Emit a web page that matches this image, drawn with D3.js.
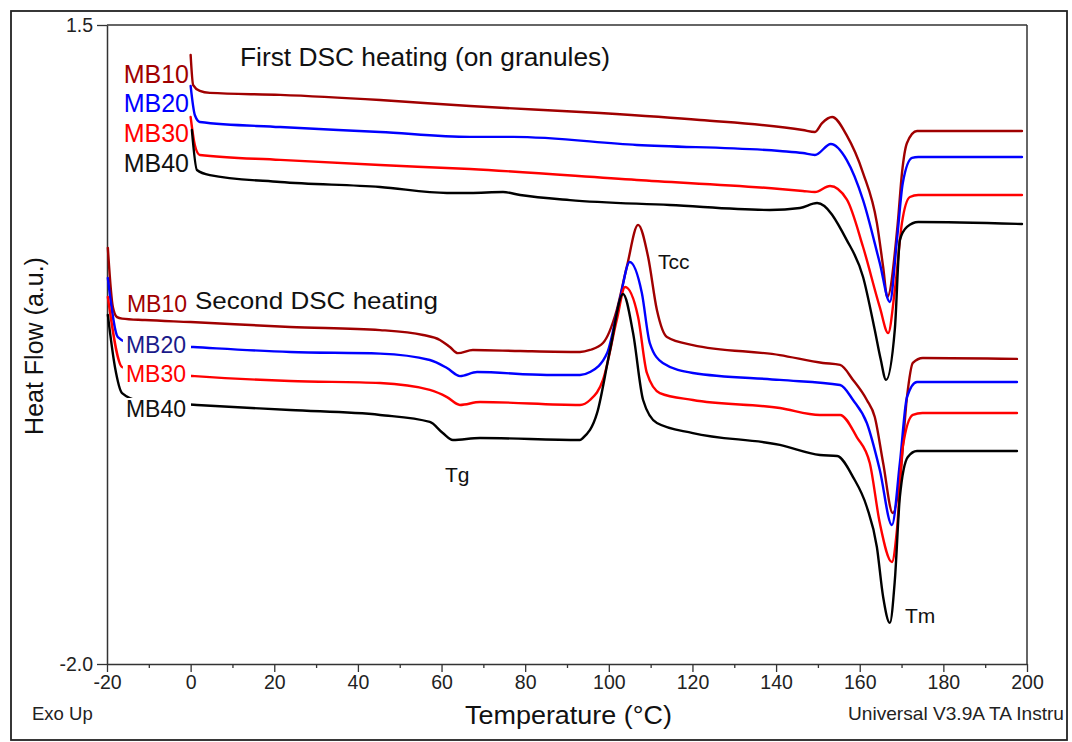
<!DOCTYPE html>
<html>
<head>
<meta charset="utf-8">
<script src="https://cdn.jsdelivr.net/npm/d3@7"></script>
<style>
  html, body { margin: 0; padding: 0; background: #fff; }
  svg { display: block; font-family: "Liberation Sans", Arial, sans-serif; }
</style>
</head>
<body>
<svg id="chart" width="1072" height="742"></svg>
<script>
// ---------------- DATA ----------------
const seriesNames = ["MB10", "MB20", "MB30", "MB40"];
const xTickValues = [-20, 0, 20, 40, 60, 80, 100, 120, 140, 160, 180, 200];
const xMinorTickValues = [-10, 10, 30, 50, 70, 90, 110, 130, 150, 170, 190];
const yTickValues = [1.5, -2.0];
const yTickLabels = ["1.5", "-2.0"];

// First DSC heating (on granules): [temperature °C, heat flow a.u.]
const firstMB10 = [[0.0,1.336],[0.6,1.171],[2.2,1.139],[4.6,1.128],[21.4,1.117],[45.3,1.089],[66.8,1.056],[97.9,1.018],[121.8,0.980],[146.4,0.925],[149.3,0.914],[151.0,0.963],[153.4,0.996],[156.9,0.895],[160.8,0.689],[164.1,0.416],[165.6,0.175],[166.6,0.010],[169.1,0.416],[170.1,0.689],[171.3,0.854],[173.7,0.919],[198.8,0.919]];
const firstMB20 = [[0.0,1.166],[1.0,1.007],[2.2,0.969],[21.4,0.941],[45.3,0.914],[66.8,0.887],[77.1,0.887],[106.7,0.843],[140.9,0.810],[146.4,0.799],[149.3,0.788],[153.1,0.848],[156.9,0.760],[160.8,0.541],[164.8,0.196],[167.2,-0.017],[168.9,0.322],[170.3,0.635],[172.5,0.772],[174.0,0.777],[198.8,0.777]];
const firstMB30 = [[0.0,0.996],[1.0,0.843],[2.2,0.788],[21.4,0.761],[45.3,0.733],[66.8,0.711],[106.7,0.651],[140.9,0.602],[146.4,0.591],[149.3,0.585],[152.9,0.618],[156.9,0.545],[160.8,0.284],[164.8,-0.045],[166.8,-0.187],[168.4,0.049],[170.1,0.416],[172.0,0.558],[174.0,0.569],[198.8,0.569]];
const firstMB40 = [[0.3,0.925],[1.5,0.706],[4.6,0.678],[21.4,0.640],[45.3,0.613],[61.3,0.580],[66.8,0.580],[74.7,0.585],[78.8,0.569],[90.7,0.541],[114.6,0.514],[138.5,0.487],[145.7,0.498],[149.8,0.525],[156.9,0.322],[160.8,0.120],[163.6,-0.171],[165.0,-0.330],[166.3,-0.444],[168.4,-0.166],[169.6,0.322],[171.3,0.394],[174.0,0.421],[198.8,0.410]];

// Second DSC heating
const secondMB10 = [[-19.8,0.279],[-18.6,-0.045],[-17.6,-0.100],[-16.4,-0.108],[-10.9,-0.116],[0.0,-0.127],[23.8,-0.154],[45.3,-0.171],[55.6,-0.198],[59.6,-0.225],[62.0,-0.264],[63.9,-0.297],[67.5,-0.280],[78.8,-0.286],[93.1,-0.291],[95.5,-0.280],[98.6,-0.242],[101.9,-0.061],[104.3,0.175],[107.0,0.405],[109.4,0.229],[111.5,-0.061],[113.9,-0.209],[120.1,-0.253],[140.9,-0.308],[151.2,-0.351],[155.3,-0.362],[158.4,-0.444],[161.7,-0.554],[163.6,-0.647],[165.6,-0.899],[167.9,-1.173],[169.6,-0.992],[171.3,-0.538],[172.7,-0.351],[175.1,-0.324],[197.6,-0.329]];
const secondMB20 = [[-19.8,0.114],[-17.4,-0.209],[-14.0,-0.245],[0.6,-0.264],[23.8,-0.291],[45.3,-0.300],[57.2,-0.335],[61.3,-0.379],[64.4,-0.423],[68.5,-0.401],[85.2,-0.417],[93.1,-0.417],[95.5,-0.401],[99.6,-0.297],[102.6,-0.006],[105.0,0.202],[107.9,0.032],[109.8,-0.242],[112.9,-0.351],[120.1,-0.406],[140.9,-0.444],[155.3,-0.472],[158.4,-0.554],[161.7,-0.680],[164.8,-0.937],[167.7,-1.239],[169.6,-0.899],[171.3,-0.538],[173.7,-0.455],[197.6,-0.455]];
const secondMB30 = [[-19.8,0.010],[-16.4,-0.373],[-12.0,-0.400],[1.0,-0.423],[23.8,-0.450],[45.3,-0.461],[57.2,-0.499],[61.3,-0.538],[64.4,-0.581],[69.2,-0.565],[93.1,-0.581],[95.5,-0.554],[98.6,-0.444],[101.9,-0.116],[103.9,0.065],[107.0,-0.099],[109.1,-0.406],[112.2,-0.516],[120.1,-0.554],[140.9,-0.598],[150.5,-0.636],[155.3,-0.636],[159.3,-0.757],[162.4,-0.899],[164.8,-1.228],[167.7,-1.441],[168.9,-1.266],[170.3,-0.811],[172.7,-0.636],[175.0,-0.625],[197.6,-0.625]];
const secondMB40 = [[-19.8,-0.088],[-18.1,-0.373],[-16.4,-0.516],[-12.0,-0.560],[1.5,-0.581],[23.8,-0.609],[45.3,-0.636],[57.2,-0.674],[60.3,-0.735],[62.7,-0.773],[69.2,-0.762],[93.1,-0.773],[93.8,-0.762],[97.2,-0.625],[100.3,-0.280],[103.4,0.027],[105.8,-0.187],[108.2,-0.554],[111.5,-0.680],[120.1,-0.735],[140.9,-0.800],[150.5,-0.855],[154.6,-0.861],[158.4,-0.976],[161.7,-1.140],[164.1,-1.359],[165.6,-1.633],[167.2,-1.775],[168.4,-1.540],[169.6,-1.085],[171.5,-0.866],[173.7,-0.833],[197.6,-0.833]];

// ---------------- STYLE ----------------
const seriesColor = { MB10: "#a00000", MB20: "#0000ff", MB30: "#ff0000", MB40: "#000000" };
const FONT = '"Liberation Sans", Arial, sans-serif';

const svg = d3.select("#chart");
const plot = { left: 107, right: 1027, top: 25, bottom: 664 };

const x = d3.scaleLinear().domain([-20, 200]).range([plot.left, plot.right]);
const y = d3.scaleLinear().domain([-2.0, 1.5]).range([plot.bottom, plot.top]);

// outer frame
svg.append("rect").attr("x", 11).attr("y", 11).attr("width", 1056).attr("height", 729)
  .attr("fill", "#fff").attr("stroke", "#222").attr("stroke-width", 1.8);

// plot frame (top and right)
svg.append("line").attr("x1", plot.left).attr("x2", plot.right).attr("y1", plot.top).attr("y2", plot.top)
  .attr("stroke", "#333").attr("stroke-width", 1.5);
svg.append("line").attr("x1", plot.right).attr("x2", plot.right).attr("y1", plot.top).attr("y2", plot.bottom)
  .attr("stroke", "#333").attr("stroke-width", 1.5);

// x axis
const xAxis = svg.append("g").attr("transform", `translate(0,${plot.bottom})`)
  .call(d3.axisBottom(x).tickValues(xTickValues).tickSize(8).tickSizeOuter(0).tickPadding(3)
    .tickFormat(d => String(d)));
xAxis.select(".domain").attr("stroke", "#333").attr("stroke-width", 1.5);
xAxis.selectAll(".tick line").attr("stroke", "#333").attr("stroke-width", 1.3);
xAxis.selectAll(".tick text").attr("font-family", FONT).attr("font-size", 19.5).attr("fill", "#222");

const xMinor = svg.append("g").attr("transform", `translate(0,${plot.bottom})`)
  .call(d3.axisBottom(x).tickValues(xMinorTickValues).tickSize(4).tickSizeOuter(0).tickFormat(""));
xMinor.select(".domain").remove();
xMinor.selectAll(".tick line").attr("stroke", "#333").attr("stroke-width", 1.3);

// y axis
const yAxis = svg.append("g").attr("transform", `translate(${plot.left},0)`)
  .call(d3.axisLeft(y).tickValues(yTickValues).tickSize(10).tickSizeOuter(0).tickPadding(4)
    .tickFormat((d, i) => yTickLabels[i]));
yAxis.select(".domain").attr("stroke", "#333").attr("stroke-width", 1.5);
yAxis.selectAll(".tick line").attr("stroke", "#333").attr("stroke-width", 1.3);
yAxis.selectAll(".tick text").attr("font-family", FONT).attr("font-size", 19.5).attr("fill", "#222");

// curves
const line = d3.line().x(d => x(d[0])).y(d => y(d[1])).curve(d3.curveMonotoneX);
const curves = [
  { name: "MB10", data: firstMB10 }, { name: "MB20", data: firstMB20 },
  { name: "MB30", data: firstMB30 }, { name: "MB40", data: firstMB40 },
  { name: "MB10", data: secondMB10 }, { name: "MB20", data: secondMB20 },
  { name: "MB30", data: secondMB30 }, { name: "MB40", data: secondMB40 }
];
svg.append("g").selectAll("path").data(curves).join("path")
  .attr("d", d => line(d.data))
  .attr("fill", "none")
  .attr("stroke", d => seriesColor[d.name])
  .attr("stroke-width", 2.4)
  .attr("stroke-linejoin", "round")
  .attr("stroke-linecap", "round");

// labels (second-heating labels sit on white boxes that hide the curve beneath)
function label(txt, px, py, size, color, anchor, bg, len) {
  const g = svg.append("g");
  const t = g.append("text").attr("x", px).attr("y", py).attr("font-family", FONT)
    .attr("font-size", size).attr("fill", color).attr("text-anchor", anchor || "start").text(txt);
  if (len) t.attr("textLength", len).attr("lengthAdjust", "spacingAndGlyphs");
  if (bg) {
    const b = t.node().getBBox();
    g.insert("rect", "text").attr("x", b.x - 3).attr("y", b.y + 2).attr("width", b.width + 8)
      .attr("height", b.height - 3).attr("fill", "#fff");
  }
  return t;
}

label("First DSC heating (on granules)", 240, 66, 25, "#111", "start", false, 370);
label("MB10", 189, 83, 25, seriesColor.MB10, "end");
label("MB20", 189, 112, 25, seriesColor.MB20, "end");
label("MB30", 189, 142, 25, seriesColor.MB30, "end");
label("MB40", 189, 172, 25, "#111", "end");

label("MB10", 187, 312, 23, seriesColor.MB10, "end", true);
label("Second DSC heating", 195, 309, 24, "#111", "start", false, 243);
label("MB20", 186, 353, 23, "#1a1a8a", "end", true);
label("MB30", 186, 382, 23, seriesColor.MB30, "end", true);
label("MB40", 186, 417, 23, "#111", "end", true);

label("Tcc", 658, 269, 21, "#111");
label("Tg", 445, 482, 21, "#111");
label("Tm", 905, 623, 21, "#111");

// axis titles
svg.append("text").attr("x", 465).attr("y", 724)
  .attr("font-family", FONT).attr("font-size", 25).attr("fill", "#111")
  .attr("textLength", 207).attr("lengthAdjust", "spacingAndGlyphs").text("Temperature (°C)");
svg.append("text").attr("transform", "translate(43,346) rotate(-90)").attr("text-anchor", "middle")
  .attr("font-family", FONT).attr("font-size", 25).attr("fill", "#111").text("Heat Flow (a.u.)");

svg.append("text").attr("x", 32).attr("y", 720).attr("font-family", FONT).attr("font-size", 18.5)
  .attr("fill", "#222").text("Exo Up");
svg.append("text").attr("x", 848).attr("y", 720).attr("font-family", FONT).attr("font-size", 18.5)
  .attr("fill", "#222").attr("textLength", 216).attr("lengthAdjust", "spacingAndGlyphs")
  .text("Universal V3.9A TA Instru");
</script>
</body>
</html>
